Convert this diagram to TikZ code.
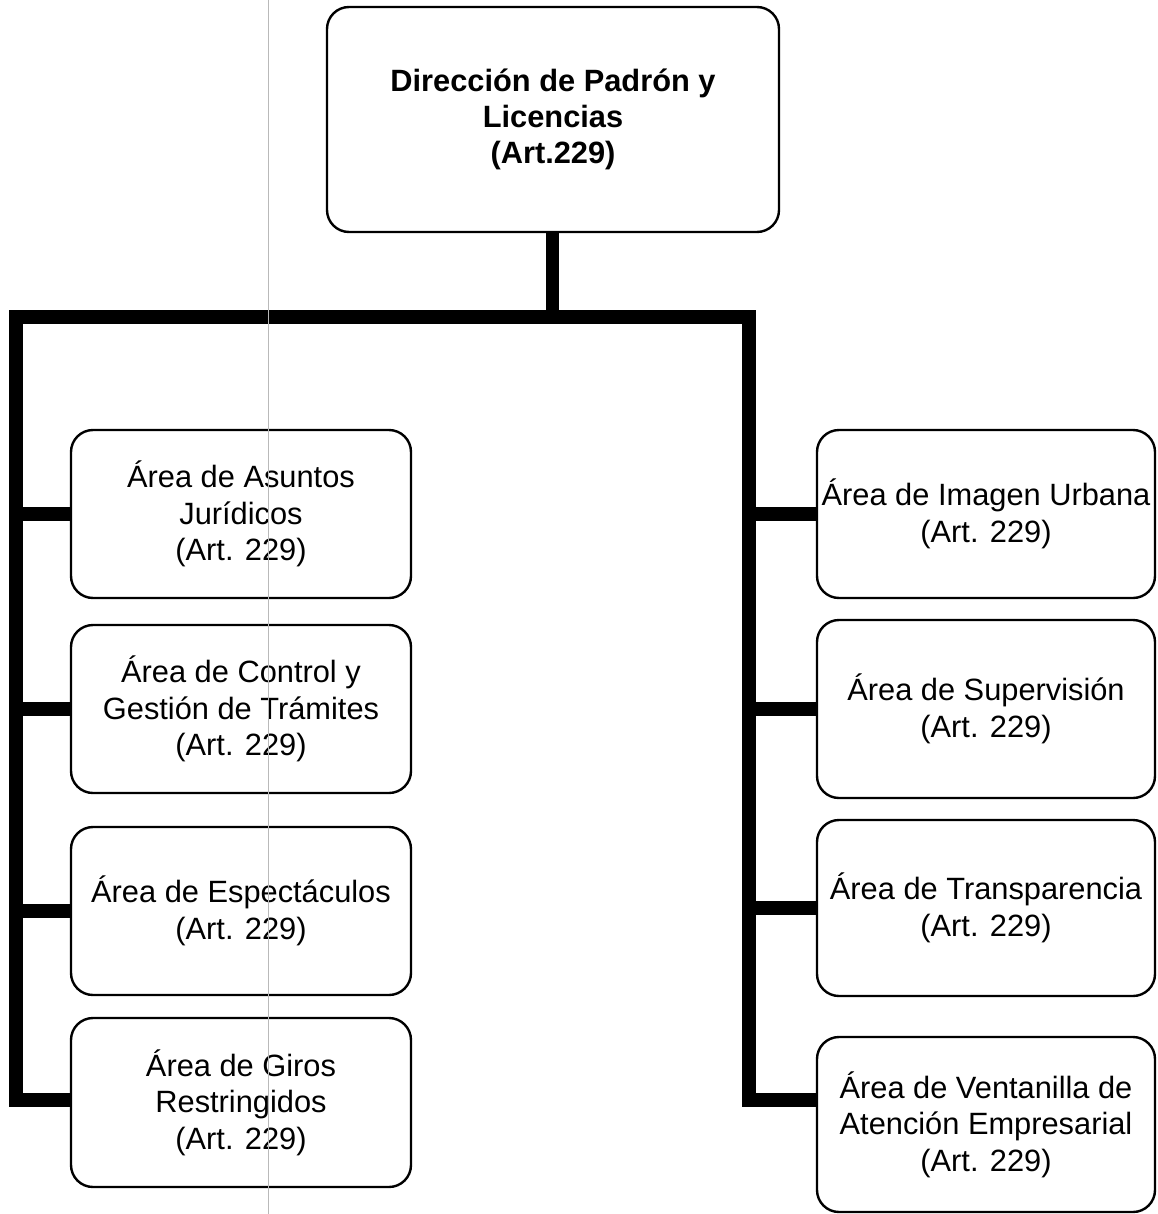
\documentclass[tikz,border=0pt]{standalone}
\usepackage{fontspec}
\setmainfont{Liberation Sans}
\begin{document}
\begin{tikzpicture}[x=0.5pt,y=-0.5pt,
  box/.style={draw=black, line width=1.2pt, rounded corners=11pt, fill=white,
    inner sep=0pt, align=center, font=\fontsize{15.4}{18.2}\selectfont},
  lbox/.style={box, minimum width=170pt},
  rbox/.style={box, minimum width=169pt},
  conn/.style={draw=black, line width=7pt, line join=miter, line cap=butt}]
\useasboundingbox (0,0) rectangle (1157,1214);

% boxes
\node[box, minimum width=226pt, minimum height=112.5pt, font=\fontsize{15.4}{18.2}\selectfont\bfseries]
  (top) at (553,119.5) {Dirección de Padrón y\\Licencias\\(Art.229)};

\node[lbox, minimum height=84pt] (a1) at (241,514) {Área de Asuntos\\Jurídicos\\(Art. 229)};
\node[lbox, minimum height=84pt] (a2) at (241,709) {Área de Control y\\Gestión de Trámites\\(Art. 229)};
\node[lbox, minimum height=84pt] (a3) at (241,911) {Área de Espectáculos\\(Art. 229)};
\node[lbox, minimum height=84.5pt] (a4) at (241,1102.5) {Área de Giros\\Restringidos\\(Art. 229)};

\node[rbox, minimum height=84pt] (r1) at (986,514) {Área de Imagen Urbana\\(Art. 229)};
\node[rbox, minimum height=89pt] (r2) at (986,709) {Área de Supervisión\\(Art. 229)};
\node[rbox, minimum height=88pt] (r3) at (986,908) {Área de Transparencia\\(Art. 229)};
\node[rbox, minimum height=87.5pt] (r4) at (986,1124.5) {Área de Ventanilla de\\Atención Empresarial\\(Art. 229)};

% bus coordinates
\coordinate (hub) at (552,317);
\coordinate (ltop) at (15.5,317);
\coordinate (rtop) at (749,317);
\coordinate (lbot) at (15.5,1100);
\coordinate (rbot) at (749,1100);
\coordinate (r4in) at (817,1100);

% connectors
\draw[line width=6.5pt] (top.south -| hub) -- (hub);
\draw[conn] (a4.west |- lbot) -- (lbot) -- (ltop) -- (rtop) -- (rbot) -- (r4in);
\draw[conn] (ltop |- a1.west) -- (a1.west);
\draw[conn] (ltop |- a2.west) -- (a2.west);
\draw[conn] (ltop |- a3.west) -- (a3.west);
\draw[conn] (rtop |- r1.west) -- (r1.west);
\draw[conn] (rtop |- r2.west) -- (r2.west);
\draw[conn] (rtop |- r3.west) -- (r3.west);

% faint scan fold line
\draw[gray!55, line width=0.5pt] (268,0) -- (268,1214);
\end{tikzpicture}
\end{document}
